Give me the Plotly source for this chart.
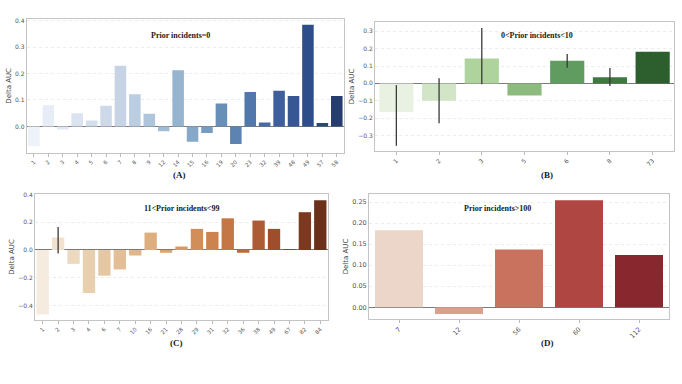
import plotly.graph_objects as go
from plotly.colors import sample_colorscale

# ---------------- data ----------------
a_labels = ["1", "2", "3", "4", "5", "6", "7", "8", "9", "12", "14", "15", "16",
            "19", "20", "23", "32", "39", "48", "49", "57", "58"]
a_values = [-0.075, 0.080, -0.012, 0.050, 0.022, 0.078, 0.230, 0.122, 0.048, -0.018,
            0.213, -0.058, -0.025, 0.087, -0.067, 0.130, 0.015, 0.135, 0.115, 0.385,
            0.013, 0.115]

b_labels = ["1", "2", "3", "5", "6", "8", "73"]
b_values = [-0.165, -0.100, 0.143, -0.070, 0.130, 0.035, 0.182]
b_ci_low = [-0.360, -0.230, -0.005, None, 0.090, -0.015, None]
b_ci_high = [-0.010, 0.030, 0.320, None, 0.170, 0.088, None]

c_labels = ["1", "2", "3", "4", "6", "7", "10", "16", "21", "28", "29", "31", "32",
            "36", "38", "49", "67", "82", "84"]
c_values = [-0.465, 0.090, -0.100, -0.310, -0.185, -0.140, -0.040, 0.125, -0.020,
            0.025, 0.152, 0.130, 0.228, -0.020, 0.212, 0.152, 0.005, 0.272, 0.358]
c_ci_low = [None, -0.025] + [None] * 17
c_ci_high = [None, 0.165] + [None] * 17

d_labels = ["7", "12", "56", "60", "112"]
d_values = [0.183, -0.016, 0.137, 0.254, 0.124]

titles = ["Prior incidents=0", "0<Prior incidents<10", "11<Prior incidents<99", "Prior incidents>100"]
panel_tags = ["(A)", "(B)", "(C)", "(D)"]

# ---------------- styles (muted sequential palettes) ----------------
blues = [[0.0, "#eef2f9"], [0.3, "#c4d3e5"], [0.5, "#8db0cd"], [0.65, "#5f87b3"],
         [0.8, "#41619e"], [0.9, "#2f4f8a"], [1.0, "#243d6e"]]
greens = [[0.0, "#e8f1e2"], [0.17, "#d2e6c6"], [0.33, "#b0d39e"], [0.5, "#8dbb7f"],
          [0.67, "#5f9a5f"], [0.83, "#3e7a3e"], [1.0, "#2d5e2d"]]
oranges = [[0.0, "#f6ebdf"], [0.17, "#e8cfae"], [0.33, "#e0b68c"], [0.45, "#d9a56f"],
           [0.6, "#cd8550"], [0.7, "#c07040"], [0.8, "#a85530"], [0.9, "#8a4026"],
           [1.0, "#6b3019"]]
reds = [[0.0, "#ecd5c9"], [0.25, "#dba08d"], [0.5, "#c9735f"], [0.75, "#b04641"],
        [1.0, "#88282e"]]


def palette(scale, n):
    return sample_colorscale(scale, [i / (n - 1) for i in range(n)])


def err(values, lo, hi):
    plus, minus = [], []
    for v, l, h in zip(values, lo, hi):
        if l is None:
            plus.append(0)
            minus.append(0)
        else:
            plus.append(h - v)
            minus.append(v - l)
    return plus, minus


fig = go.Figure()

panels = [
    (a_labels, a_values, None, None, blues, "x", "y"),
    (b_labels, b_values, b_ci_low, b_ci_high, greens, "x2", "y2"),
    (c_labels, c_values, c_ci_low, c_ci_high, oranges, "x3", "y3"),
    (d_labels, d_values, None, None, reds, "x4", "y4"),
]

for labels, values, lo, hi, scale, xa, ya in panels:
    kw = {}
    if lo is not None:
        plus, minus = err(values, lo, hi)
        kw["error_y"] = dict(type="data", symmetric=False, array=plus, arrayminus=minus,
                             color="#3a3a3a", thickness=1.3, width=0)
    fig.add_trace(go.Bar(
        x=labels, y=values, xaxis=xa, yaxis=ya, width=0.8,
        marker=dict(color=palette(scale, len(labels)), line=dict(width=0)),
        showlegend=False, **kw))

W, H = 682, 384
doms = [
    # x0, x1, ytop, ybottom (pixels)
    (26.7, 344, 19, 152.7),
    (375, 674, 22, 151),
    (35, 328, 194, 320),
    (369, 669, 194, 319),
]
yranges = [[-0.0995, 0.4065], [-0.39, 0.354], [-0.504, 0.403], [-0.028, 0.269]]
ydticks = [0.1, 0.1, 0.2, 0.05]
ytickfmt = [".1f", ".1f", ".1f", ".2f"]
ns = [len(a_labels), len(b_labels), len(c_labels), len(d_labels)]
xtick_sizes = [5.5, 6, 5.5, 6.5]
ytick_sizes = [6, 6, 6, 6.5]

layout = {}
for i, (x0, x1, yt, yb) in enumerate(doms):
    sx = "" if i == 0 else str(i + 1)
    layout["xaxis" + sx] = dict(
        domain=[x0 / W, x1 / W], anchor="y" + sx, type="category",
        range=[-0.5, ns[i] - 0.5], tickangle=-45,
        tickfont=dict(size=xtick_sizes[i], color="#555555", family="DejaVu Sans"),
        ticks="outside", ticklen=3, tickcolor="#bbbbbb", tickwidth=1,
        showline=True, mirror=True, linecolor="#c4c4c4", linewidth=1,
        showgrid=False, zeroline=False, automargin=False)
    layout["yaxis" + sx] = dict(
        domain=[1 - yb / H, 1 - yt / H], anchor="x" + sx,
        range=yranges[i], dtick=ydticks[i], tickformat=ytickfmt[i],
        tickfont=dict(size=ytick_sizes[i], color="#555555", family="DejaVu Sans"),
        ticks="", showline=True, mirror=True, linecolor="#c4c4c4", linewidth=1,
        showgrid=True, gridcolor="#ececec", griddash="dot", gridwidth=1,
        zeroline=True, zerolinecolor="#7a7a7a", zerolinewidth=1.2,
        title=dict(text="Delta AUC", font=dict(size=7, color="#444444", family="DejaVu Sans"),
                   standoff=2),
        automargin=False)

fig.update_layout(
    width=W, height=H, margin=dict(l=0, r=0, t=0, b=0),
    paper_bgcolor="white", plot_bgcolor="white", bargap=0.2, **layout)

title_pos = [(180, 35), (537, 35), (181, 208), (497, 208)]
tag_pos = [(179, 175), (547, 175), (176, 343), (547, 343)]
for t, (px, py) in zip(titles, title_pos):
    fig.add_annotation(text="<b>%s</b>" % t, x=px / W, y=1 - py / H, xref="paper", yref="paper",
                       showarrow=False, xanchor="center", yanchor="middle",
                       font=dict(family="Liberation Serif", size=8, color="#1a1a1a"))
for t, (px, py) in zip(panel_tags, tag_pos):
    fig.add_annotation(text="<b>%s</b>" % t, x=px / W, y=1 - py / H, xref="paper", yref="paper",
                       showarrow=False, xanchor="center", yanchor="middle",
                       font=dict(family="Liberation Serif", size=9, color="#1a1a1a"))

fig.write_html("out.html")
